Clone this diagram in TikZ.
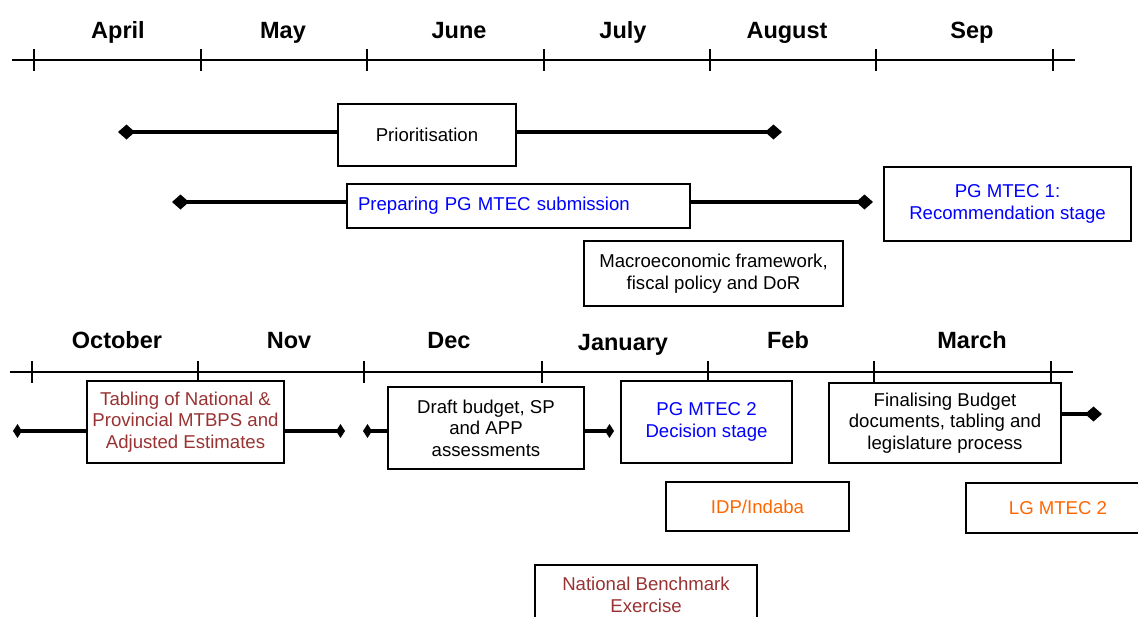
\documentclass[tikz,border=0pt]{standalone}
\usepackage{fontspec}
\setmainfont{Liberation Sans}
\usetikzlibrary{arrows.meta}
\definecolor{mtecblue}{HTML}{0000FF}
\definecolor{tabred}{HTML}{993333}
\definecolor{lgorange}{HTML}{FF6600}

\begin{document}
\begin{tikzpicture}[
    x=1pt, y=-1pt,
    axis/.style={line width=1.8pt},
    month/.style={anchor=base, font=\fontsize{23.5}{26}\selectfont\bfseries},
    stage/.style={draw, fill=white, line width=1.4pt, align=center, inner sep=0pt,
        font=\fontsize{18.6}{21.5}\selectfont},
    span/.style={line width=4.5pt, -{Diamond[length=17pt, width=15pt]}},
    spant/.style={line width=4.5pt, -{Diamond[length=9pt, width=14pt]}}
]
    \useasboundingbox (0,0) rectangle (1138,616);

    % first half of the year
    \draw[axis] (12,60) -- (1075,60);
    \foreach \x in {34,201,367,544,710,876,1053}
        \draw[axis] (\x,49) -- (\x,71);
    \foreach \x/\m in {118/April, 283/May, 459/June, 623/July, 787/August, 972/Sep}
        \node[month] (m-\m) at (\x,38.5) {\m};

    \node[stage, minimum width=178pt, minimum height=62pt] (prio) at (427,135) {Prioritisation};
    \node[stage, minimum width=343pt, minimum height=44pt, text width=321pt, align=left,
        text=mtecblue] (prep) at (518.5,206) {Preparing PG MTEC submission};
    \node[stage, minimum width=247pt, minimum height=74pt, text=mtecblue] (mtec1) at (1007.5,204)
        {PG MTEC 1:\\Recommendation stage};
    \node[stage, minimum width=259pt, minimum height=65pt] (macro) at (713.5,273.5)
        {Macroeconomic framework,\\fiscal policy and DoR};

    \coordinate (prioL) at (118,132);
    \coordinate (prioR) at (782,132);
    \coordinate (prepL) at (172,202);
    \coordinate (prepR) at (873,202);
    \draw[span] (prioL -| prio.west) -- (prioL);
    \draw[span] (prioR -| prio.east) -- (prioR);
    \draw[span] (prepL -| prep.west) -- (prepL);
    \draw[span] (prepR -| prep.east) -- (prepR);

    % second half of the year
    \draw[axis] (10,372) -- (1073,372);
    \foreach \x in {32,198,364,542,708,874,1051}
        \draw[axis] (\x,361) -- (\x,383);
    \foreach \x/\y/\m in {117/348.5/October, 289/348.5/Nov, 449/348.5/Dec, 623/350.5/January,
        788/348.5/Feb, 972/348.5/March}
        \node[month] (m-\m) at (\x,\y) {\m};

    \node[stage, minimum width=197pt, minimum height=82pt, text=tabred] (tab) at (185.5,422)
        {Tabling of National \&\\Provincial MTBPS and\\Adjusted Estimates};
    \node[stage, minimum width=196pt, minimum height=82pt] (draft) at (486,428)
        {Draft budget, SP\\and APP\\assessments};
    \node[stage, minimum width=171pt, minimum height=82pt, text=mtecblue] (mtec2) at (706.5,422)
        {PG MTEC 2\\Decision stage};
    \node[stage, minimum width=232pt, minimum height=80pt] (final) at (945,423)
        {Finalising Budget\\documents, tabling and\\legislature process};
    \node[stage, minimum width=183pt, minimum height=49pt, text=lgorange] (idp) at (757.5,506.5)
        {IDP/Indaba};
    \node[stage, minimum width=184pt, minimum height=50pt, text=lgorange] (lg) at (1058,508)
        {LG MTEC 2};
    \node[stage, minimum width=222pt, minimum height=60pt, text=tabred] (bench) at (646,595)
        {National Benchmark\\Exercise};

    \coordinate (tabL) at (13,431);
    \coordinate (tabR) at (345,431);
    \coordinate (draftL) at (363,431);
    \coordinate (draftR) at (614,431);
    \coordinate (finalR) at (1102,414);
    \draw[spant] (tabL -| tab.west) -- (tabL);
    \draw[spant] (tabR -| tab.east) -- (tabR);
    \draw[spant] (draftL -| draft.west) -- (draftL);
    \draw[spant] (draftR -| draft.east) -- (draftR);
    \draw[span] (finalR -| final.east) -- (finalR);
\end{tikzpicture}
\end{document}
